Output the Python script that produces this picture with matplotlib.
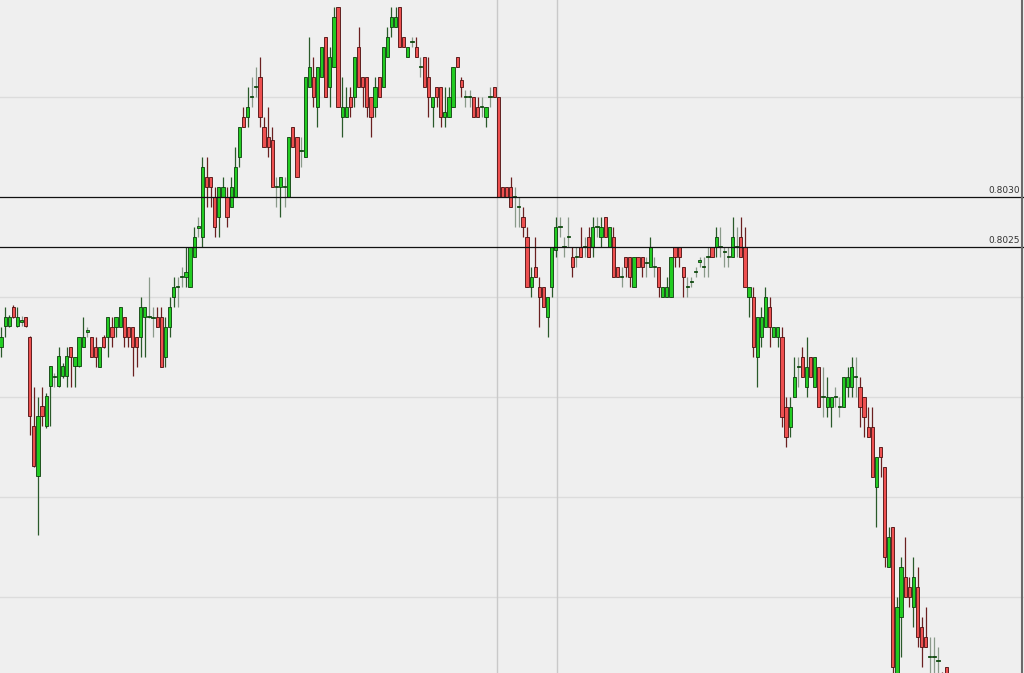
import numpy as np
import matplotlib
matplotlib.use("Agg")
import matplotlib.pyplot as plt
from matplotlib.lines import Line2D

# OHLC prices, one entry per candle, left to right
opens = [
    0.80150, 0.80171, 0.80171, 0.80190, 0.80171, 0.80175, 0.80180, 0.80160, 0.80071, 0.80021,
    0.80091, 0.80071, 0.80111, 0.80120, 0.80111, 0.80121, 0.80121, 0.80150, 0.80131, 0.80131,
    0.80150, 0.80165, 0.80160, 0.80150, 0.80130, 0.80160, 0.80160, 0.80170, 0.80170, 0.80170,
    0.80180, 0.80170, 0.80170, 0.80160, 0.80160, 0.80180, 0.80180, 0.80179, 0.80180, 0.80180,
    0.80140, 0.80170, 0.80200, 0.80210, 0.80220, 0.80220, 0.80210, 0.80240, 0.80269, 0.80260,
    0.80320, 0.80320, 0.80300, 0.80280, 0.80300, 0.80300, 0.80290, 0.80300, 0.80340, 0.80380,
    0.80380, 0.80400, 0.80410, 0.80420, 0.80370, 0.80360, 0.80357, 0.80310, 0.80310, 0.80310,
    0.80300, 0.80370, 0.80360, 0.80346, 0.80340, 0.80410, 0.80420, 0.80390, 0.80420, 0.80460,
    0.80410, 0.80430, 0.80490, 0.80380, 0.80380, 0.80400, 0.80400, 0.80450, 0.80420, 0.80420,
    0.80400, 0.80390, 0.80420, 0.80410, 0.80440, 0.80470, 0.80470, 0.80490, 0.80460, 0.80440,
    0.80455, 0.80450, 0.80430, 0.80440, 0.80420, 0.80390, 0.80410, 0.80410, 0.80380, 0.80380,
    0.80390, 0.80440, 0.80417, 0.80400, 0.80400, 0.80400, 0.80390, 0.80390, 0.80380, 0.80400,
    0.80410, 0.80400, 0.80310, 0.80310, 0.80310, 0.80300, 0.80290, 0.80280, 0.80260, 0.80210,
    0.80230, 0.80210, 0.80210, 0.80180, 0.80210, 0.80247, 0.80270, 0.80250, 0.80260, 0.80240,
    0.80240, 0.80250, 0.80250, 0.80260, 0.80250, 0.80270, 0.80260, 0.80280, 0.80250, 0.80260,
    0.80230, 0.80220, 0.80240, 0.80240, 0.80210, 0.80240, 0.80240, 0.80234, 0.80230, 0.80230,
    0.80230, 0.80200, 0.80200, 0.80200, 0.80250, 0.80250, 0.80230, 0.80210, 0.80215, 0.80225,
    0.80235, 0.80230, 0.80240, 0.80250, 0.80250, 0.80250, 0.80245, 0.80240, 0.80240, 0.80250,
    0.80260, 0.80250, 0.80200, 0.80200, 0.80140, 0.80160, 0.80170, 0.80190, 0.80160, 0.80160,
    0.80160, 0.80090, 0.80070, 0.80100, 0.80130, 0.80140, 0.80110, 0.80140, 0.80110, 0.80130,
    0.80100, 0.80090, 0.80090, 0.80100, 0.80090, 0.80090, 0.80110, 0.80110, 0.80120, 0.80110,
    0.80100, 0.80070, 0.80070, 0.80010, 0.80050, 0.80030, 0.79930, 0.79970, 0.79822, 0.79880,
    0.79920, 0.79910, 0.79890, 0.79910, 0.79870, 0.79860, 0.79840, 0.79840, 0.79836, 0.79822,
    0.79830,
]
highs = [
    0.80170, 0.80190, 0.80182, 0.80192, 0.80190, 0.80181, 0.80180, 0.80161, 0.80110, 0.80100,
    0.80110, 0.80104, 0.80131, 0.80124, 0.80150, 0.80134, 0.80150, 0.80150, 0.80140, 0.80160,
    0.80180, 0.80170, 0.80160, 0.80160, 0.80150, 0.80162, 0.80180, 0.80180, 0.80180, 0.80190,
    0.80180, 0.80170, 0.80170, 0.80160, 0.80200, 0.80190, 0.80220, 0.80190, 0.80190, 0.80190,
    0.80180, 0.80200, 0.80220, 0.80220, 0.80230, 0.80250, 0.80250, 0.80270, 0.80280, 0.80340,
    0.80340, 0.80320, 0.80310, 0.80310, 0.80320, 0.80310, 0.80320, 0.80350, 0.80370, 0.80390,
    0.80410, 0.80420, 0.80430, 0.80440, 0.80380, 0.80390, 0.80370, 0.80320, 0.80320, 0.80320,
    0.80360, 0.80370, 0.80360, 0.80360, 0.80420, 0.80460, 0.80440, 0.80430, 0.80450, 0.80460,
    0.80450, 0.80490, 0.80490, 0.80420, 0.80410, 0.80410, 0.80440, 0.80470, 0.80420, 0.80420,
    0.80400, 0.80420, 0.80420, 0.80450, 0.80470, 0.80490, 0.80490, 0.80490, 0.80460, 0.80450,
    0.80460, 0.80460, 0.80440, 0.80440, 0.80440, 0.80400, 0.80410, 0.80410, 0.80410, 0.80410,
    0.80430, 0.80440, 0.80420, 0.80407, 0.80407, 0.80400, 0.80400, 0.80400, 0.80390, 0.80410,
    0.80410, 0.80400, 0.80310, 0.80310, 0.80320, 0.80310, 0.80300, 0.80290, 0.80270, 0.80230,
    0.80260, 0.80220, 0.80210, 0.80200, 0.80250, 0.80280, 0.80280, 0.80260, 0.80280, 0.80250,
    0.80250, 0.80270, 0.80260, 0.80270, 0.80280, 0.80280, 0.80280, 0.80280, 0.80270, 0.80270,
    0.80230, 0.80230, 0.80240, 0.80240, 0.80240, 0.80240, 0.80240, 0.80240, 0.80260, 0.80240,
    0.80230, 0.80210, 0.80220, 0.80240, 0.80250, 0.80250, 0.80230, 0.80220, 0.80220, 0.80230,
    0.80240, 0.80240, 0.80250, 0.80250, 0.80270, 0.80270, 0.80250, 0.80250, 0.80280, 0.80270,
    0.80280, 0.80270, 0.80210, 0.80210, 0.80180, 0.80190, 0.80210, 0.80200, 0.80170, 0.80170,
    0.80170, 0.80100, 0.80100, 0.80140, 0.80140, 0.80150, 0.80160, 0.80140, 0.80140, 0.80130,
    0.80130, 0.80120, 0.80100, 0.80110, 0.80100, 0.80120, 0.80130, 0.80140, 0.80140, 0.80120,
    0.80100, 0.80090, 0.80090, 0.80040, 0.80050, 0.80030, 0.79970, 0.79970, 0.79900, 0.79940,
    0.79960, 0.79920, 0.79940, 0.79930, 0.79880, 0.79890, 0.79860, 0.79860, 0.79850, 0.79825,
    0.79830,
]
lows = [
    0.80140, 0.80160, 0.80170, 0.80179, 0.80170, 0.80171, 0.80170, 0.80062, 0.80030, 0.79962,
    0.80071, 0.80069, 0.80071, 0.80110, 0.80110, 0.80119, 0.80110, 0.80110, 0.80110, 0.80130,
    0.80150, 0.80160, 0.80140, 0.80130, 0.80130, 0.80149, 0.80140, 0.80150, 0.80160, 0.80170,
    0.80150, 0.80150, 0.80121, 0.80130, 0.80140, 0.80140, 0.80179, 0.80160, 0.80170, 0.80130,
    0.80130, 0.80160, 0.80190, 0.80190, 0.80210, 0.80210, 0.80210, 0.80240, 0.80260, 0.80250,
    0.80290, 0.80290, 0.80260, 0.80260, 0.80300, 0.80270, 0.80290, 0.80300, 0.80330, 0.80370,
    0.80370, 0.80390, 0.80400, 0.80370, 0.80350, 0.80340, 0.80310, 0.80290, 0.80280, 0.80290,
    0.80300, 0.80350, 0.80320, 0.80330, 0.80340, 0.80410, 0.80390, 0.80370, 0.80420, 0.80400,
    0.80390, 0.80430, 0.80390, 0.80360, 0.80380, 0.80380, 0.80390, 0.80410, 0.80390, 0.80380,
    0.80360, 0.80380, 0.80400, 0.80410, 0.80440, 0.80460, 0.80470, 0.80450, 0.80450, 0.80440,
    0.80450, 0.80440, 0.80420, 0.80410, 0.80380, 0.80370, 0.80390, 0.80370, 0.80370, 0.80380,
    0.80390, 0.80430, 0.80400, 0.80390, 0.80390, 0.80380, 0.80380, 0.80380, 0.80370, 0.80390,
    0.80400, 0.80300, 0.80300, 0.80300, 0.80290, 0.80270, 0.80270, 0.80260, 0.80210, 0.80200,
    0.80220, 0.80170, 0.80190, 0.80160, 0.80200, 0.80240, 0.80260, 0.80240, 0.80250, 0.80220,
    0.80230, 0.80240, 0.80240, 0.80240, 0.80240, 0.80260, 0.80250, 0.80260, 0.80250, 0.80220,
    0.80220, 0.80210, 0.80220, 0.80210, 0.80210, 0.80230, 0.80220, 0.80220, 0.80230, 0.80220,
    0.80200, 0.80200, 0.80200, 0.80200, 0.80230, 0.80230, 0.80200, 0.80200, 0.80210, 0.80220,
    0.80230, 0.80220, 0.80220, 0.80240, 0.80240, 0.80240, 0.80230, 0.80230, 0.80240, 0.80240,
    0.80240, 0.80210, 0.80180, 0.80140, 0.80110, 0.80150, 0.80170, 0.80150, 0.80160, 0.80150,
    0.80070, 0.80050, 0.80060, 0.80100, 0.80110, 0.80120, 0.80100, 0.80120, 0.80110, 0.80090,
    0.80080, 0.80080, 0.80070, 0.80090, 0.80080, 0.80090, 0.80100, 0.80100, 0.80100, 0.80070,
    0.80060, 0.80060, 0.80020, 0.79970, 0.80020, 0.79930, 0.79930, 0.79817, 0.79817, 0.79840,
    0.79900, 0.79890, 0.79870, 0.79850, 0.79830, 0.79850, 0.79817, 0.79817, 0.79817, 0.79807,
    0.79807,
]
closes = [
    0.80160, 0.80180, 0.80180, 0.80180, 0.80180, 0.80177, 0.80171, 0.80081, 0.80031, 0.80081,
    0.80081, 0.80101, 0.80131, 0.80121, 0.80141, 0.80131, 0.80141, 0.80140, 0.80140, 0.80160,
    0.80160, 0.80167, 0.80140, 0.80140, 0.80150, 0.80150, 0.80180, 0.80160, 0.80180, 0.80190,
    0.80160, 0.80160, 0.80150, 0.80150, 0.80190, 0.80190, 0.80181, 0.80180, 0.80170, 0.80130,
    0.80170, 0.80190, 0.80210, 0.80211, 0.80221, 0.80225, 0.80250, 0.80260, 0.80271, 0.80330,
    0.80310, 0.80310, 0.80270, 0.80310, 0.80310, 0.80280, 0.80310, 0.80330, 0.80370, 0.80370,
    0.80390, 0.80401, 0.80411, 0.80380, 0.80350, 0.80350, 0.80310, 0.80311, 0.80320, 0.80311,
    0.80360, 0.80350, 0.80320, 0.80347, 0.80420, 0.80430, 0.80400, 0.80430, 0.80450, 0.80400,
    0.80440, 0.80480, 0.80390, 0.80390, 0.80390, 0.80390, 0.80440, 0.80410, 0.80410, 0.80390,
    0.80380, 0.80410, 0.80400, 0.80450, 0.80460, 0.80480, 0.80480, 0.80450, 0.80450, 0.80450,
    0.80456, 0.80440, 0.80431, 0.80410, 0.80400, 0.80400, 0.80400, 0.80380, 0.80385, 0.80400,
    0.80430, 0.80430, 0.80410, 0.80401, 0.80401, 0.80380, 0.80380, 0.80391, 0.80390, 0.80401,
    0.80400, 0.80300, 0.80300, 0.80300, 0.80290, 0.80301, 0.80291, 0.80270, 0.80210, 0.80220,
    0.80220, 0.80200, 0.80190, 0.80200, 0.80250, 0.80270, 0.80271, 0.80251, 0.80261, 0.80230,
    0.80241, 0.80240, 0.80251, 0.80240, 0.80270, 0.80271, 0.80270, 0.80260, 0.80270, 0.80220,
    0.80220, 0.80221, 0.80230, 0.80220, 0.80240, 0.80230, 0.80230, 0.80235, 0.80250, 0.80231,
    0.80210, 0.80210, 0.80210, 0.80240, 0.80240, 0.80240, 0.80220, 0.80211, 0.80216, 0.80226,
    0.80237, 0.80231, 0.80241, 0.80240, 0.80260, 0.80251, 0.80246, 0.80241, 0.80260, 0.80251,
    0.80240, 0.80210, 0.80210, 0.80150, 0.80180, 0.80180, 0.80200, 0.80170, 0.80170, 0.80170,
    0.80080, 0.80060, 0.80090, 0.80120, 0.80131, 0.80120, 0.80130, 0.80120, 0.80140, 0.80090,
    0.80101, 0.80100, 0.80100, 0.80101, 0.80091, 0.80120, 0.80120, 0.80130, 0.80121, 0.80090,
    0.80080, 0.80060, 0.80020, 0.80040, 0.80040, 0.79940, 0.79960, 0.79830, 0.79890, 0.79930,
    0.79900, 0.79900, 0.79920, 0.79860, 0.79850, 0.79850, 0.79841, 0.79841, 0.79837, 0.79812,
    0.79817,
]

level_lines = [0.8030, 0.8025]
level_labels = ["0.8030", "0.8025"]
grid_levels = [0.7990, 0.8000, 0.8010, 0.8020, 0.8040]
session_marks = [120.7, 135.3]  # vertical separators, in candle units

PX_PER_CANDLE = 4.11
W, H = 1024, 673
Y_TOP, Y_BOTTOM = 0.80497, 0.79824


def main():
    o = np.array(opens)
    h = np.array(highs)
    l = np.array(lows)
    c = np.array(closes)
    idx = np.arange(len(o))

    fig = plt.figure(figsize=(W / 100, H / 100), dpi=100)
    fig.patch.set_facecolor('#efefef')
    ax = fig.add_axes([0, 0, 1, 1])
    ax.set_facecolor('#efefef')
    ax.set_xlim(-1 / PX_PER_CANDLE, (W - 1) / PX_PER_CANDLE)
    ax.set_ylim(Y_BOTTOM, Y_TOP)
    ax.set_axis_off()

    for g in grid_levels:
        ax.axhline(g, color='#dcdcdc', lw=1.0, zorder=0)
    for s in session_marks:
        ax.axvline(s, color='#c9c9c9', lw=1.0, zorder=0)

    up = c >= o
    doji = np.abs(c - o) < 0.000025
    wick_col = np.where(doji, '#8a9a8a', np.where(up, '#2a5a2a', '#6a2020'))
    ax.vlines(idx, l, h, colors=wick_col, lw=0.9, zorder=2)

    body_lo = np.minimum(o, c)
    body_h = np.maximum(np.abs(c - o), 0.000008)
    face = np.where(up, '#22cc22', '#ee5050')
    edge = np.where(up, '#0d3d0d', '#4a0d0d')
    ax.bar(idx, body_h, bottom=body_lo, width=0.78, color=face,
           edgecolor=edge, linewidth=0.6, zorder=3)

    for lvl, lab in zip(level_lines, level_labels):
        ax.axhline(lvl, color='#111111', lw=0.9, zorder=4)
        ax.text(0.996, lvl + 0.00002, lab, transform=ax.get_yaxis_transform(),
                ha='right', va='bottom', fontsize=6.5, color='#333333',
                family='DejaVu Sans', zorder=5)

    ax.add_line(Line2D([0.9985, 0.9985], [0, 1], transform=ax.transAxes,
                       color='#6a6a6a', lw=1.5, zorder=6))

    fig.savefig('out.png', dpi=100, facecolor=fig.get_facecolor())


if __name__ == '__main__':
    main()
